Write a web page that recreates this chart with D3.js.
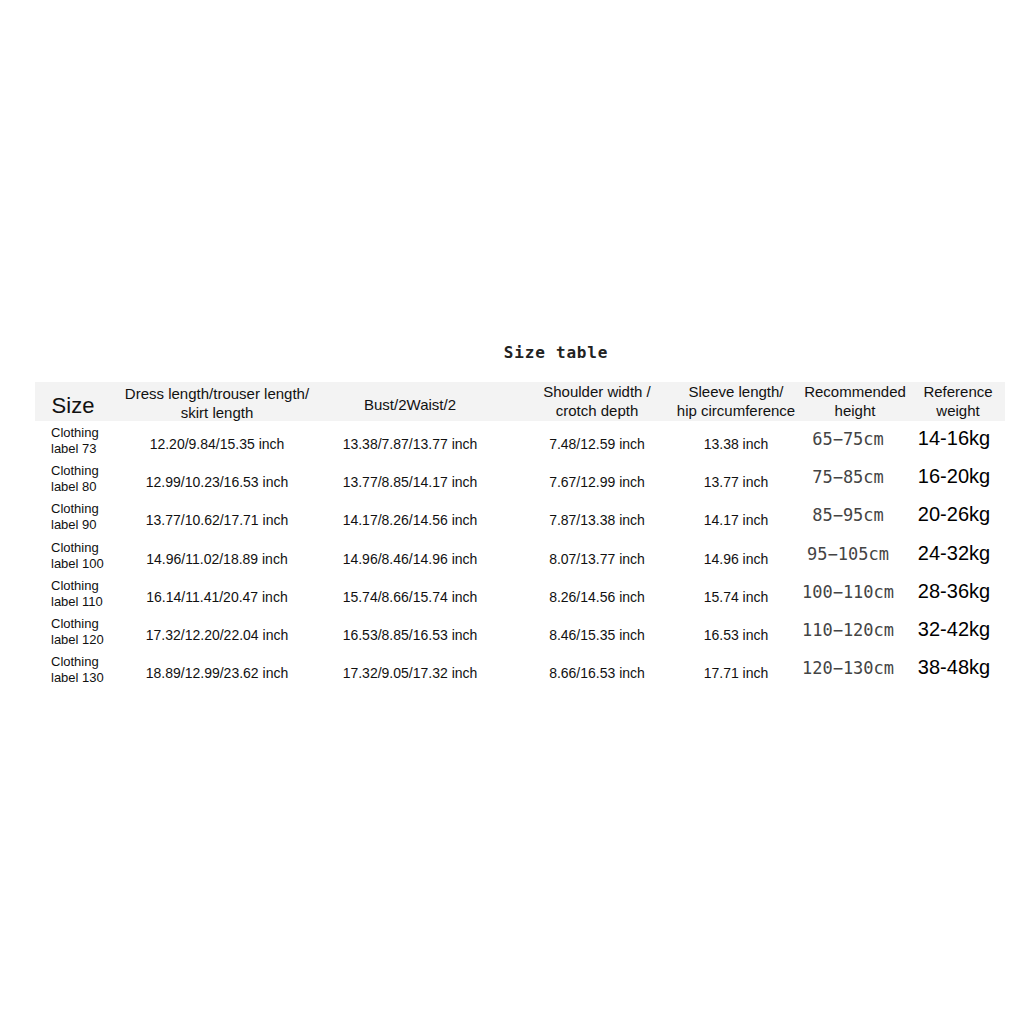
<!DOCTYPE html>
<html>
<head>
<meta charset="utf-8">
<script src="https://cdn.jsdelivr.net/npm/d3@7"></script>
<style>
  body { margin: 0; background: #fff; }
</style>
</head>
<body>
<div id="chart"></div>
<script>
// table content
const headers = [
  ["Size"],
  ["Dress length/trouser length/", "skirt length"],
  ["Bust/2Waist/2"],
  ["Shoulder width /", "crotch depth"],
  ["Sleeve length/", "hip circumference"],
  ["Recommended", "height"],
  ["Reference", "weight"]
];
const labels = ["73", "80", "90", "100", "110", "120", "130"];
const dressLen = ["12.20/9.84/15.35", "12.99/10.23/16.53", "13.77/10.62/17.71", "14.96/11.02/18.89", "16.14/11.41/20.47", "17.32/12.20/22.04", "18.89/12.99/23.62"];
const bustWaist = ["13.38/7.87/13.77", "13.77/8.85/14.17", "14.17/8.26/14.56", "14.96/8.46/14.96", "15.74/8.66/15.74", "16.53/8.85/16.53", "17.32/9.05/17.32"];
const shoulder = ["7.48/12.59", "7.67/12.99", "7.87/13.38", "8.07/13.77", "8.26/14.56", "8.46/15.35", "8.66/16.53"];
const sleeve = ["13.38", "13.77", "14.17", "14.96", "15.74", "16.53", "17.71"];
const heights = ["65-75", "75-85", "85-95", "95-105", "100-110", "110-120", "120-130"];
const weights = ["14-16", "16-20", "20-26", "24-32", "28-36", "32-42", "38-48"];

const W = 1020, H = 1020;
const colCenter = [73, 217, 410, 597, 736, 855, 958];
const cols = d3.range(headers.length);
const mono = "'DejaVu Sans Mono', 'Liberation Mono', monospace";

const svg = d3.select("#chart").append("svg")
  .attr("width", W).attr("height", H)
  .style("font-family", "'Liberation Sans', Arial, sans-serif");

const x = d3.scaleOrdinal().domain(cols).range(colCenter);
const y = d3.scaleBand().domain(labels).range([421, 688]);

// title
svg.append("text")
  .attr("x", 556).attr("y", 358)
  .attr("text-anchor", "middle")
  .style("font-family", mono)
  .style("font-weight", "bold")
  .style("font-size", "16px")
  .style("letter-spacing", "0.8px")
  .attr("fill", "#222")
  .text("Size table");

// header band
svg.append("rect")
  .attr("x", 35).attr("y", 382)
  .attr("width", 970).attr("height", 39)
  .attr("fill", "#f3f3f3");

const hdr = svg.append("g").selectAll("text")
  .data(headers)
  .join("text")
  .attr("text-anchor", "middle")
  .attr("fill", "#111")
  .style("font-size", (d, i) => i === 0 ? "22px" : "15px")
  .attr("x", (d, i) => x(i))
  .attr("y", (d, i) => i === 0 ? 413 : (d.length === 1 ? 410 : (i === 1 ? 399 : 397)));

hdr.selectAll("tspan")
  .data(d => d)
  .join("tspan")
  .attr("x", function() { return d3.select(this.parentNode).attr("x"); })
  .attr("dy", (d, i) => i === 0 ? 0 : 19)
  .text(d => d);

// rows
const rows = svg.append("g").selectAll("g")
  .data(labels)
  .join("g")
  .attr("transform", d => `translate(0,${y(d) + y.bandwidth() / 2})`);

// clothing label, two lines, left aligned
rows.append("text")
  .attr("x", 51)
  .attr("y", -3)
  .style("font-size", "13px")
  .attr("fill", "#111")
  .selectAll("tspan")
  .data(d => ["Clothing", "label " + d])
  .join("tspan")
  .attr("x", 51)
  .attr("dy", (d, i) => i === 0 ? 0 : 16)
  .text(d => d);

const inchCols = [dressLen, bustWaist, shoulder, sleeve];
inchCols.forEach((arr, k) => {
  rows.append("text")
    .attr("x", x(k + 1))
    .attr("y", 9)
    .attr("text-anchor", "middle")
    .style("font-size", "14px")
    .attr("fill", "#111")
    .text((d, i) => arr[i] + " inch");
});

rows.append("text")
  .attr("x", x(5) - 7)
  .attr("y", 5)
  .attr("text-anchor", "middle")
  .style("font-family", mono)
  .style("font-size", "17px")
  .attr("fill", "#444")
  .text((d, i) => heights[i].replace("-", "\u2212") + "cm");

rows.append("text")
  .attr("x", x(6) - 4)
  .attr("y", 5)
  .attr("text-anchor", "middle")
  .style("font-size", "20px")
  .attr("fill", "#000")
  .text((d, i) => weights[i] + "kg");
</script>
</body>
</html>
